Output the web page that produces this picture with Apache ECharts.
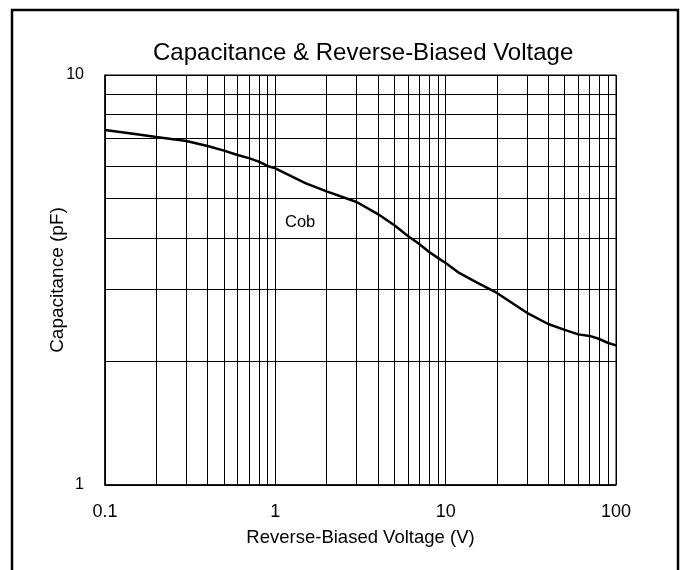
<!DOCTYPE html>
<html>
<head>
<meta charset="utf-8">
<script src="https://cdn.jsdelivr.net/npm/echarts@6/dist/echarts.min.js"></script>
<style>
  html, body { margin: 0; padding: 0; background: #fff; }
  #main { width: 684px; height: 570px; }
</style>
</head>
<body>
<div id="main"></div>
<script>
// voltage (V) and Cob capacitance (pF)
const voltage = [0.1, 0.15, 0.2, 0.3, 0.4, 0.5, 0.6, 0.7, 0.8, 0.9, 1, 1.5, 2, 3, 4, 5, 6, 7, 8, 9, 10, 12, 15, 20, 30, 40, 50, 60, 70, 80, 90, 100];
const cob = [7.34, 7.18, 7.06, 6.9, 6.71, 6.54, 6.38, 6.27, 6.15, 6.0, 5.92, 5.45, 5.2, 4.9, 4.58, 4.3, 4.05, 3.87, 3.7, 3.58, 3.48, 3.29, 3.13, 2.94, 2.63, 2.47, 2.39, 2.33, 2.31, 2.27, 2.22, 2.19];

// minor grid values between the decades
const minorX = [0.2, 0.3, 0.4, 0.5, 0.6, 0.7, 0.8, 0.9, 2, 3, 4, 5, 6, 7, 8, 9, 20, 30, 40, 50, 60, 70, 80, 90];
const minorY = [2, 3, 4, 5, 6, 7, 8, 9];

const font = 'Liberation Sans, Arial, sans-serif';
const chart = echarts.init(document.getElementById('main'));

const gridMarks = minorX.map(v => ({ xAxis: v })).concat(minorY.map(v => ({ yAxis: v })));

chart.setOption({
  animation: false,
  title: {
    text: 'Capacitance & Reverse-Biased Voltage',
    left: 148,
    top: 36,
    textStyle: { fontFamily: font, fontSize: 24, fontWeight: 'normal', color: '#000' }
  },
  grid: { left: 105, top: 75, width: 511, height: 410, show: true, borderColor: '#000', borderWidth: 1 },
  xAxis: {
    type: 'log', logBase: 10, min: 0.1, max: 100,
    name: 'Reverse-Biased Voltage (V)', nameLocation: 'middle', nameGap: 43,
    nameMoveOverlap: false,
    nameTextStyle: { fontFamily: font, fontSize: 18.5, color: '#000' },
    axisLine: { lineStyle: { color: '#000', width: 1.5 } },
    axisTick: { show: false },
    axisLabel: { fontFamily: font, fontSize: 18, color: '#000', margin: 18 },
    splitLine: { show: true, lineStyle: { color: '#000', width: 1 } }
  },
  yAxis: {
    type: 'log', logBase: 10, min: 1, max: 10,
    name: 'Capacitance (pF)', nameLocation: 'middle', nameGap: 38,
    nameMoveOverlap: false,
    nameTextStyle: { fontFamily: font, fontSize: 19, color: '#000' },
    axisLine: { lineStyle: { color: '#000', width: 1.5 } },
    axisTick: { show: false },
    axisLabel: { fontFamily: font, fontSize: 16, color: '#000', margin: 21, padding: [6, 0, 0, 0] },
    splitLine: { show: true, lineStyle: { color: '#000', width: 1 } }
  },
  series: [{
    type: 'line',
    data: voltage.map((v, i) => [v, cob[i]]),
    showSymbol: false,
    lineStyle: { color: '#000', width: 2.5 },
    markLine: {
      silent: true,
      symbol: 'none',
      label: { show: false },
      lineStyle: { color: '#000', width: 1, type: 'solid' },
      data: gridMarks
    }
  }],
  graphic: [
    { type: 'rect', shape: { x: 12, y: 10, width: 666, height: 600 }, style: { fill: 'none', stroke: '#000', lineWidth: 2.5 } },
    { type: 'text', left: 285, top: 214, style: { text: 'Cob', font: '16.5px ' + font, fill: '#000' } }
  ]
});
</script>
</body>
</html>
